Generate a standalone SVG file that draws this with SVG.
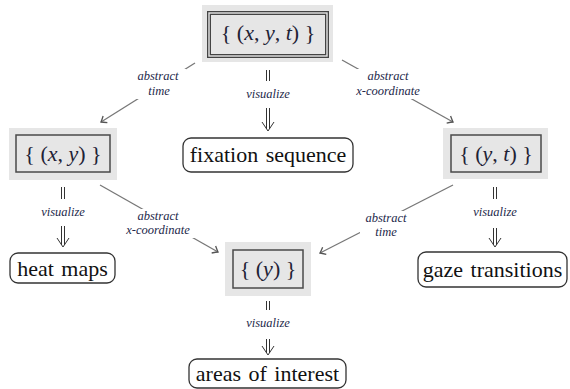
<svg xmlns="http://www.w3.org/2000/svg" width="570" height="389" viewBox="0 0 570 389">
<style>
.bg{fill:#e6e6e6}
.box{fill:#e6e6e6;stroke:#4a4a4a;stroke-width:1.5}
.dbl1{fill:#e6e6e6;stroke:#444;stroke-width:4}
.dbl2{fill:none;stroke:#e6e6e6;stroke-width:1.4}
.rnd{fill:#fff;stroke:#333;stroke-width:1.3}
.math{font-size:22px;fill:#1e2235;text-anchor:middle}
.it{font-style:italic}
.txt{font-size:22px;fill:#111;text-anchor:middle;word-spacing:2px}
.lbl{font-style:italic;font-size:12.5px;fill:#23284a;text-anchor:middle}
.lblbg{fill:#fff}
.ab{stroke:#777;stroke-width:1.3;fill:none}
.vz{stroke:#333;stroke-width:1;fill:none}
</style>
<defs>
<marker id="tip" markerUnits="userSpaceOnUse" markerWidth="12" markerHeight="12" viewBox="-7 -6 9 12" refX="0" refY="0" orient="auto">
<path d="M-5,-4 Q-1.5,-1 0,0 Q-1.5,1 -5,4" fill="none" stroke="#555" stroke-width="1.3"/>
</marker>
</defs>
<g font-family="Liberation Serif, DejaVu Serif, serif">
<g id="connectors">
<line class="ab" x1="195" y1="63" x2="101" y2="122" marker-end="url(#tip)"/>
<line class="ab" x1="342" y1="60" x2="453" y2="122" marker-end="url(#tip)"/>
<line class="ab" x1="100" y1="185" x2="218" y2="252" marker-end="url(#tip)"/>
<line class="ab" x1="453" y1="185" x2="320" y2="253" marker-end="url(#tip)"/>
<g id="lbl-top-left"><rect class="lblbg" x="132" y="69" width="54" height="30"/><text class="lbl" x="158" y="80">abstract</text><text class="lbl" x="159" y="95">time</text></g>
<g id="lbl-top-right"><rect class="lblbg" x="347" y="69" width="82" height="30"/><text class="lbl" x="388" y="80">abstract</text><text class="lbl" x="388" y="95">x-coordinate</text></g>
<g id="lbl-mid-left"><rect class="lblbg" x="118" y="209" width="82" height="29"/><text class="lbl" x="158" y="220">abstract</text><text class="lbl" x="158" y="234">x-coordinate</text></g>
<g id="lbl-mid-right"><rect class="lblbg" x="360" y="211" width="54" height="28"/><text class="lbl" x="386" y="222">abstract</text><text class="lbl" x="386" y="236">time</text></g>
<g id="viz-top">
<path class="vz" d="M266.5,70V81M269.5,70V81"/>
<text class="lbl" x="268" y="98">visualize</text>
<path class="vz" d="M266.5,108V129M269.5,108V129M262,122L268,131L274,122"/>
</g>
<g id="viz-left">
<path class="vz" d="M61.5,187V199M64.5,187V199"/>
<text class="lbl" x="63" y="216">visualize</text>
<path class="vz" d="M61.5,226V245M64.5,226V245M57,238L63,247L69,238"/>
</g>
<g id="viz-right">
<path class="vz" d="M493.5,187V199M496.5,187V199"/>
<text class="lbl" x="495" y="216">visualize</text>
<path class="vz" d="M493.5,228V245M496.5,228V245M489,238L495,247L501,238"/>
</g>
<g id="viz-bottom">
<path class="vz" d="M266.5,301V310M269.5,301V310"/>
<text class="lbl" x="268" y="327">visualize</text>
<path class="vz" d="M266.5,339V353M269.5,339V353M262,346L268,355L274,346"/>
</g>
</g>
<g id="n-xyt">
<rect class="bg" x="202" y="5" width="131" height="57"/>
<rect class="dbl1" x="209" y="13" width="118" height="43"/>
<rect class="dbl2" x="209" y="13" width="118" height="43"/>
<text class="math" x="268" y="40">{ (<tspan class="it">x</tspan>, <tspan class="it">y</tspan>, <tspan class="it">t</tspan>) }</text>
</g>
<g id="n-xy">
<rect class="bg" x="9" y="128" width="108" height="52"/>
<rect class="box" x="16" y="135" width="94" height="37"/>
<text class="math" x="63" y="161">{ (<tspan class="it">x</tspan>, <tspan class="it">y</tspan>) }</text>
</g>
<g id="n-yt">
<rect class="bg" x="443" y="128" width="105" height="51"/>
<rect class="box" x="451" y="135" width="90" height="37"/>
<text class="math" x="496" y="161">{ (<tspan class="it">y</tspan>, <tspan class="it">t</tspan>) }</text>
</g>
<g id="n-y">
<rect class="bg" x="225" y="242" width="86" height="54"/>
<rect class="box" x="233" y="250" width="70" height="38"/>
<text class="math" x="268" y="276">{ (<tspan class="it">y</tspan>) }</text>
</g>
<g id="n-fix">
<rect class="rnd" x="183" y="138" width="170" height="34" rx="8"/>
<text class="txt" x="268" y="162">fixation sequence</text>
</g>
<g id="n-heat">
<rect class="rnd" x="10" y="253" width="105" height="30" rx="8"/>
<text class="txt" x="62.5" y="276">heat maps</text>
</g>
<g id="n-gaze">
<rect class="rnd" x="418" y="252" width="149" height="35" rx="8"/>
<text class="txt" x="492.5" y="277">gaze transitions</text>
</g>
<g id="n-aoi">
<rect class="rnd" x="189" y="359" width="157" height="29" rx="8"/>
<text class="txt" x="267.5" y="381">areas of interest</text>
</g>
</g>
</svg>
